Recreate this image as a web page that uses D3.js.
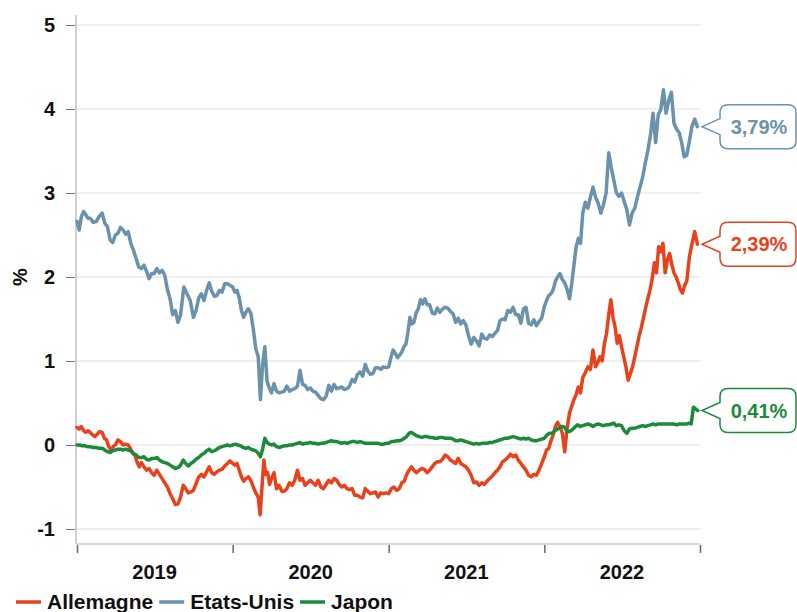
<!DOCTYPE html>
<html><head><meta charset="utf-8">
<script src="https://cdn.jsdelivr.net/npm/d3@7"></script>
<style>body{margin:0;background:#fff}svg{display:block}</style>
</head><body><svg id="chart" width="797" height="612"></svg>
<script>
// ---------- DATA ----------
const seriesNames = ["Allemagne", "Etats-Unis", "Japon"];
const seriesColors = ["#E8411B", "#6A92AC", "#1B8B3B"];
const lastLabels = ["2,39%", "3,79%", "0,41%"];
const yTicks = [-1, 0, 1, 2, 3, 4, 5];
const yearLabels = ["2019", "2020", "2021", "2022"];
const firstMonth = "2019-01-01";

// monthly groups of readings (Jan 2019 ... Dec 2022), 10-year yields in %
const allemagne = [
  [0.21,0.19,0.22,0.17,0.15,0.17],[0.15,0.12,0.10,0.13,0.16],[0.15,0.08,0.06,-0.02,-0.06,-0.02],
  [0.00,0.06,0.04,0.00,0.01],[0.00,-0.04,-0.10,-0.12,-0.20,-0.26],[-0.21,-0.26,-0.30,-0.28,-0.33],
  [-0.36,-0.30,-0.35,-0.40,-0.45],[-0.50,-0.58,-0.64,-0.71,-0.70],[-0.62,-0.48,-0.52,-0.57,-0.56],
  [-0.54,-0.46,-0.38,-0.35,-0.38],[-0.32,-0.26,-0.33,-0.35,-0.32],[-0.30,-0.29,-0.25,-0.22,-0.19],
  [-0.22,-0.24,-0.22,-0.30,-0.38,-0.43],[-0.40,-0.38,-0.42,-0.50,-0.57],[-0.62,-0.83,-0.50,-0.18,-0.35,-0.33,-0.47],
  [-0.40,-0.33,-0.52,-0.48,-0.55],[-0.55,-0.52,-0.45,-0.48,-0.42],[-0.30,-0.42,-0.40,-0.48,-0.45],
  [-0.42,-0.45,-0.48,-0.42,-0.50],[-0.52,-0.47,-0.42,-0.45,-0.40],[-0.42,-0.47,-0.50,-0.48,-0.52],
  [-0.53,-0.52,-0.60,-0.60,-0.62],[-0.63,-0.52,-0.55,-0.58,-0.57],[-0.56,-0.62,-0.57,-0.58,-0.57],
  [-0.58,-0.52,-0.50,-0.54,-0.52],[-0.45,-0.43,-0.35,-0.30,-0.26],[-0.30,-0.33,-0.30,-0.28,-0.29],
  [-0.33,-0.30,-0.26,-0.22,-0.20],[-0.20,-0.17,-0.12,-0.14,-0.18],[-0.20,-0.22,-0.16,-0.22,-0.24],
  [-0.26,-0.30,-0.36,-0.45,-0.44],[-0.48,-0.45,-0.47,-0.43,-0.40],[-0.37,-0.33,-0.30,-0.26,-0.20],
  [-0.18,-0.15,-0.11,-0.14,-0.12],[-0.18,-0.22,-0.26,-0.30,-0.36],[-0.38,-0.35,-0.36,-0.30,-0.22],
  [-0.14,-0.06,-0.04,0.05,0.12,0.22],[0.27,0.22,0.14,-0.08,0.20],[0.38,0.46,0.54,0.60,0.69,0.62],
  [0.80,0.86,0.93,0.90,1.13],[0.93,0.98,1.05,1.00,1.20,1.33],[1.55,1.73,1.52,1.40,1.21,1.30],
  [1.17,1.05,0.93,0.77,0.85,0.93],[1.05,1.17,1.30,1.40,1.52,1.64],[1.75,1.85,1.98,2.17,2.05,2.36],
  [2.30,2.40,2.05,2.20,2.28,2.15],[2.05,2.00,1.93,1.85,1.81,1.90],[1.95,2.24,2.40,2.54,2.39]
];
const etatsUnis = [
  [2.66,2.56,2.72,2.78,2.74,2.70],[2.70,2.65,2.66,2.72],[2.76,2.64,2.60,2.44,2.41],
  [2.50,2.52,2.59,2.56,2.51],[2.54,2.40,2.32,2.22,2.12],[2.10,2.14,2.07,1.98,2.04],
  [2.04,2.10,2.05,2.08,2.02],[1.85,1.74,1.55,1.60,1.46],[1.55,1.88,1.80,1.72],
  [1.52,1.60,1.75,1.80,1.72],[1.84,1.93,1.83,1.77,1.78],[1.84,1.82,1.92,1.92,1.90],
  [1.88,1.82,1.84,1.75,1.60,1.52],[1.58,1.62,1.57,1.38,1.15],[1.05,0.54,0.96,1.17,0.76,0.68],
  [0.62,0.73,0.64,0.62,0.63],[0.64,0.70,0.64,0.66,0.67],[0.70,0.89,0.72,0.71,0.66],
  [0.68,0.64,0.63,0.59,0.55],[0.54,0.58,0.71,0.64,0.72],[0.67,0.68,0.69,0.66,0.67],
  [0.70,0.78,0.75,0.84,0.87],[0.82,0.96,0.88,0.84,0.85],[0.92,0.92,0.90,0.93,0.92],
  [0.93,1.04,1.13,1.09,1.04,1.07],[1.11,1.17,1.20,1.34,1.52,1.44],[1.46,1.57,1.62,1.73,1.68,1.74],
  [1.67,1.67,1.57,1.56,1.63],[1.58,1.62,1.64,1.63,1.59],[1.56,1.46,1.51,1.44,1.48],
  [1.43,1.30,1.20,1.28,1.24],[1.18,1.32,1.27,1.26,1.31],[1.29,1.33,1.36,1.48,1.50],
  [1.49,1.60,1.58,1.64,1.55],[1.55,1.45,1.62,1.64,1.45],[1.43,1.49,1.42,1.47,1.51],
  [1.65,1.72,1.78,1.80,1.85,1.95],[2.00,2.04,1.97,1.93,1.85],[1.74,1.92,2.14,2.36,2.46,2.40],
  [2.76,2.89,2.82,2.95,3.07],[2.95,2.88,2.76,2.86,3.00],[3.48,3.30,3.15,3.00,2.96],
  [3.00,2.90,2.80,2.62,2.76],[2.82,2.95,3.07,3.19,3.36],[3.51,3.70,3.95,3.60,3.93],
  [3.99,4.23,3.95,4.10,4.20],[3.83,3.76,3.72,3.60,3.43],[3.45,3.62,3.80,3.88,3.79]
];
const japon = [
  [0.00,0.00,-0.01,-0.01,-0.02],[-0.02,-0.03,-0.03,-0.04],[-0.04,-0.06,-0.08,-0.09,-0.07],
  [-0.06,-0.05,-0.05,-0.06,-0.05],[-0.06,-0.07,-0.10,-0.12,-0.15],[-0.15,-0.14,-0.17,-0.18,-0.16],
  [-0.16,-0.15,-0.18,-0.20,-0.21],[-0.22,-0.24,-0.26,-0.28,-0.27],[-0.24,-0.18,-0.22,-0.25,-0.22],
  [-0.20,-0.17,-0.15,-0.12,-0.10],[-0.07,-0.05,-0.08,-0.07,-0.05],[-0.03,-0.02,-0.01,0.00,-0.01],
  [0.00,0.01,0.00,-0.01,-0.03],[-0.04,-0.03,-0.05,-0.06,-0.07],[-0.10,-0.14,-0.05,0.08,0.03,0.01],
  [0.00,0.01,-0.02,-0.03,-0.02],[-0.01,-0.01,0.00,0.00,0.01],[0.02,0.03,0.01,0.02,0.02],
  [0.03,0.02,0.02,0.01,0.02],[0.02,0.03,0.04,0.05,0.04],[0.04,0.03,0.02,0.03,0.02],
  [0.03,0.04,0.04,0.03,0.04],[0.03,0.02,0.02,0.02,0.02],[0.02,0.02,0.01,0.01,0.02],
  [0.02,0.04,0.04,0.05,0.05],[0.06,0.08,0.10,0.14,0.15],[0.13,0.11,0.10,0.09,0.10],
  [0.10,0.09,0.09,0.08,0.08],[0.09,0.09,0.08,0.08,0.08],[0.07,0.05,0.05,0.06,0.05],
  [0.04,0.03,0.02,0.01,0.02],[0.01,0.02,0.02,0.02,0.03],[0.03,0.04,0.05,0.06,0.07],
  [0.08,0.08,0.09,0.10,0.09],[0.08,0.07,0.08,0.07,0.08],[0.06,0.05,0.05,0.06,0.07],
  [0.08,0.12,0.14,0.14,0.17],[0.19,0.21,0.22,0.21,0.16],[0.16,0.18,0.21,0.24,0.22],
  [0.23,0.24,0.25,0.24,0.22],[0.24,0.25,0.24,0.23,0.24],[0.24,0.25,0.26,0.23,0.24],
  [0.23,0.17,0.14,0.19,0.20],[0.20,0.21,0.22,0.23,0.22],[0.23,0.24,0.25,0.24,0.25],
  [0.25,0.25,0.25,0.25,0.25],[0.25,0.24,0.25,0.25,0.25],[0.25,0.26,0.25,0.45,0.43,0.41]
];
const seriesData = [allemagne, etatsUnis, japon];

// ---------- CHART ----------
const svg = d3.select("#chart");
const FONT = "'Liberation Sans', Arial, Helvetica, sans-serif";
const start = new Date(firstMonth + "T00:00:00");
const x = d3.scaleTime().domain([start, new Date(2023, 0, 1)]).range([77, 700]);
const y = d3.scaleLinear().domain([-1.167, 5.119]).range([543, 15]);

function toPoints(months) {
  return months.flatMap((vals, m) => {
    const s = d3.timeMonth.offset(start, m), e = d3.timeMonth.offset(s, 1);
    return vals.map((v, j) => ({ date: new Date(+s + (e - s) * j / vals.length), value: v }));
  });
}

// gridlines
svg.append("g").selectAll("line").data(yTicks).join("line")
  .attr("x1", 77).attr("x2", 700)
  .attr("y1", d => y(d)).attr("y2", d => y(d))
  .attr("stroke", "#dedede").attr("stroke-width", 1);

// y axis
const yAxis = svg.append("g").attr("transform", "translate(75,0)")
  .call(d3.axisLeft(y).tickValues(yTicks).tickSize(9).tickPadding(11).tickFormat(d => String(d)));
yAxis.select(".domain").remove();
yAxis.selectAll(".tick line").attr("stroke", "#777");
yAxis.selectAll(".tick text").attr("font-family", FONT).attr("font-size", 20)
  .attr("font-weight", "bold").attr("fill", "#111");
svg.append("line").attr("x1", 76).attr("x2", 76).attr("y1", 15).attr("y2", 544)
  .attr("stroke", "#d0d0d0").attr("stroke-width", 2);

// x axis
svg.append("line").attr("x1", 76).attr("x2", 700).attr("y1", 544).attr("y2", 544)
  .attr("stroke", "#d8d8d8").attr("stroke-width", 2);
const xAxis = svg.append("g").attr("transform", "translate(0,545)")
  .call(d3.axisBottom(x).ticks(d3.timeYear.every(1)).tickSize(8).tickFormat(""));
xAxis.select(".domain").remove();
xAxis.selectAll(".tick line").attr("stroke", "#666").attr("stroke-width", 1.5);
svg.append("g").selectAll("text").data(yearLabels).join("text")
  .attr("x", d => x(new Date(+d, 6, 2))).attr("y", 579)
  .attr("text-anchor", "middle").attr("font-family", FONT).attr("font-size", 20)
  .attr("font-weight", "bold").attr("fill", "#111").text(d => d);

// y title
svg.append("text").attr("transform", "translate(27,277) rotate(-90)")
  .attr("text-anchor", "middle").attr("font-family", FONT).attr("font-size", 20)
  .attr("font-weight", "bold").attr("fill", "#111").text("%");

// lines
const line = d3.line().x(d => x(d.date)).y(d => y(d.value));
const pointsAll = seriesData.map(toPoints);
svg.append("g").selectAll("path").data(pointsAll).join("path")
  .attr("d", line).attr("fill", "none")
  .attr("stroke", (d, i) => seriesColors[i]).attr("stroke-width", 3.5)
  .attr("stroke-linejoin", "round").attr("stroke-linecap", "round");

// callouts
const bx0 = 720, bx1 = 796, half = 22, r = 8, tipX = 702, ph = 8;
pointsAll.forEach((pts, i) => {
  const cy = y(pts[pts.length - 1].value);
  const t = cy - half, b = cy + half;
  const p = `M${bx0 + r},${t} H${bx1 - r} Q${bx1},${t} ${bx1},${t + r} V${b - r} Q${bx1},${b} ${bx1 - r},${b} H${bx0 + r} Q${bx0},${b} ${bx0},${b - r} V${cy + ph} L${tipX},${cy} L${bx0},${cy - ph} V${t + r} Q${bx0},${t} ${bx0 + r},${t} Z`;
  svg.append("path").attr("d", p).attr("fill", "#fff")
    .attr("stroke", seriesColors[i]).attr("stroke-width", 1.5);
  svg.append("text").attr("x", (bx0 + bx1) / 2 + 1).attr("y", cy).attr("dy", "0.36em")
    .attr("text-anchor", "middle").attr("font-family", FONT).attr("font-size", 20)
    .attr("font-weight", "bold").attr("fill", seriesColors[i]).text(lastLabels[i]);
});

// legend
let lx = 16;
const legend = svg.append("g");
seriesNames.forEach((name, i) => {
  legend.append("line").attr("x1", lx).attr("x2", lx + 25).attr("y1", 602).attr("y2", 602)
    .attr("stroke", seriesColors[i]).attr("stroke-width", 3.5);
  const t = legend.append("text").attr("x", lx + 31).attr("y", 609)
    .attr("font-family", FONT).attr("font-size", 21).attr("font-weight", "bold")
    .attr("fill", "#111").text(name);
  lx += 31 + t.node().getComputedTextLength() + 6;
});
</script></body></html>
